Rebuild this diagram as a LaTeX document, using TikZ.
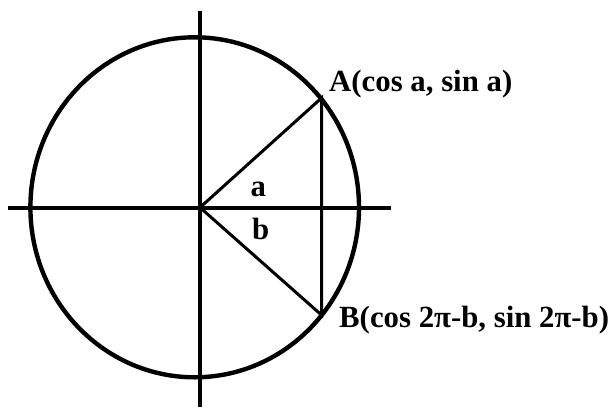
\documentclass[tikz,border=0pt]{standalone}
\usepackage{fontspec}
\setmainfont{Liberation Serif}
\begin{document}
\begin{tikzpicture}[x=1pt,y=-1pt,
  axisline/.style={line width=4pt},
  circleline/.style={line width=4.4pt},
  triline/.style={line width=3pt},
  lbl/.style={font=\fontsize{30.8}{36}\selectfont\bfseries, inner sep=0pt, anchor=base west}]
\useasboundingbox (0,0) rectangle (613,407);
\coordinate (O) at (200,207.5);
\coordinate (A) at (321.5,98);
\coordinate (B) at (321.5,315);
\coordinate (xl) at (8,207.5);
\coordinate (xr) at (391,207.5);
\coordinate (yt) at (200,11);
\coordinate (yb) at (200,407);
\coordinate (C) at (194.7,207.3);
\draw[circleline] (C) ellipse [x radius=164.3pt, y radius=170pt];
\draw[axisline] (xl) -- (xr);
\draw[axisline] (yt) -- (yb);
\draw[triline] (O) -- (A) -- (B) -- cycle;
\node[lbl] (la) at (329,91.5) {A(cos a, sin a)};
\node[lbl] (lb) at (339,327.5) {B(cos 2π-b, sin 2π-b)};
\node[lbl] (a) at (250.5,196) {a};
\node[lbl] (b) at (252,239) {b};
\end{tikzpicture}
\end{document}
